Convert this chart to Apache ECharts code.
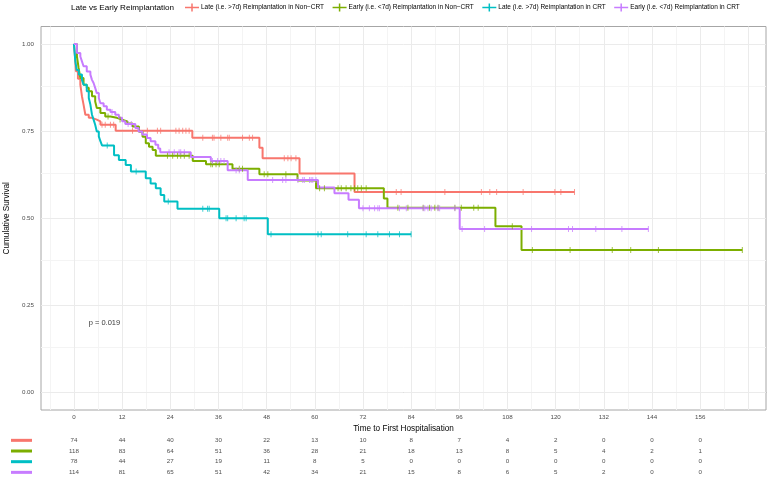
<!DOCTYPE html>
<html lang="en">
<head>
  <meta charset="utf-8">
  <title>Time to First Hospitalisation</title>
  <script src="https://cdn.jsdelivr.net/npm/echarts@6/dist/echarts.min.js"></script>
  <style>
    html, body { margin: 0; padding: 0; background: #fff; }
    #main { width: 768px; height: 479px; }
  </style>
</head>
<body>
<div id="main"></div>
<script>
  var legendTitle = 'Late vs Early Reimplantation';
  var seriesNames = [
    'Late (i.e. >7d) Reimplantation in Non\u2212CRT',
    'Early (i.e. <7d) Reimplantation in Non\u2212CRT',
    'Late (i.e. >7d) Reimplantation in CRT',
    'Early (i.e. <7d) Reimplantation in CRT'
  ];
  var colors = ['#F8766D', '#7CAE00', '#00BFC4', '#C77CFF'];

  // KM steps: time of each event and survival after it (last point = end of follow-up)
  var lateNonCrtTime = [0, 0.3, 0.5, 1.0, 1.6, 2.0, 2.4, 2.85, 3.7, 4.5, 5.7, 6.6, 10.4, 29.5, 46.2, 47.0, 56.2, 69.9, 124.7];
  var lateNonCrtSurv = [1.0, 0.96, 0.922, 0.90, 0.883, 0.85, 0.826, 0.797, 0.788, 0.783, 0.778, 0.768, 0.751, 0.731, 0.702, 0.672, 0.628, 0.575, 0.575];
  var lateNonCrtCensor = [7.0, 7.8, 9.1, 9.9, 14.6, 18.3, 20.8, 21.6, 25.4, 26.2, 27.1, 27.9, 28.7, 32.1, 34.5, 34.9, 36.6, 38.3, 38.7, 42.0, 43.7, 44.5, 52.4, 53.3, 54.1, 55.3, 80.3, 81.5, 92.4, 101.5, 103.6, 105.3, 111.9, 119.8, 121.3, 124.7];

  var earlyNonCrtTime = [0, 0.75, 1.17, 1.6, 2.4, 3.2, 3.7, 4.5, 5.3, 5.7, 6.6, 7.8, 9.1, 10.7, 12.0, 13.3, 14.6, 16.2, 17.1, 17.9, 18.7, 19.6, 20.4, 29.6, 32.9, 39.5, 46.2, 55.7, 60.3, 77.2, 78.1, 105.0, 111.5, 166.5];
  var earlyNonCrtSurv = [1.0, 0.964, 0.931, 0.902, 0.883, 0.874, 0.864, 0.850, 0.835, 0.816, 0.802, 0.792, 0.788, 0.783, 0.778, 0.772, 0.763, 0.748, 0.734, 0.715, 0.705, 0.696, 0.679, 0.664, 0.655, 0.642, 0.626, 0.608, 0.586, 0.557, 0.530, 0.477, 0.409, 0.409];
  var earlyNonCrtCensor = [8.5, 11.5, 23.3, 24.6, 25.8, 26.6, 27.5, 28.7, 34.1, 34.5, 35.4, 36.2, 41.2, 42.0, 47.4, 48.3, 52.8, 61.2, 62.4, 65.8, 66.6, 67.8, 69.0, 69.9, 70.7, 71.6, 72.8, 80.7, 83.2, 87.0, 88.6, 89.9, 90.7, 94.9, 96.5, 99.6, 100.7, 109.2, 114.2, 123.6, 134.1, 138.7, 145.6, 166.5];

  var lateCrtTime = [0, 0.35, 0.7, 1.2, 2.0, 2.4, 3.2, 3.7, 4.1, 4.5, 4.9, 5.3, 5.7, 6.2, 6.6, 7.0, 10.0, 11.2, 12.9, 14.2, 17.9, 19.1, 20.4, 21.6, 22.5, 25.8, 36.2, 48.3, 84.0];
  var lateCrtSurv = [1.0, 0.95, 0.925, 0.912, 0.897, 0.883, 0.864, 0.845, 0.826, 0.797, 0.783, 0.768, 0.749, 0.735, 0.721, 0.709, 0.681, 0.667, 0.653, 0.634, 0.615, 0.600, 0.586, 0.567, 0.548, 0.527, 0.500, 0.454, 0.454];
  var lateCrtCensor = [8.3, 15.5, 23.5, 32.1, 33.3, 33.7, 37.9, 38.3, 40.4, 42.4, 42.9, 49.1, 60.8, 61.6, 68.2, 72.8, 75.7, 78.6, 81.1, 84.0];

  var earlyCrtTime = [0, 0.75, 1.6, 2.0, 2.4, 3.2, 4.1, 4.5, 4.9, 5.3, 5.7, 6.2, 6.6, 7.4, 8.2, 9.1, 10.3, 11.2, 12.0, 12.8, 15.3, 16.1, 17.0, 18.2, 19.1, 20.3, 21.0, 21.5, 29.1, 34.1, 38.3, 43.3, 60.8, 64.9, 68.4, 71.0, 96.1, 143.1];
  var earlyCrtSurv = [1.0, 0.974, 0.964, 0.950, 0.936, 0.921, 0.912, 0.897, 0.888, 0.874, 0.859, 0.845, 0.830, 0.821, 0.811, 0.805, 0.797, 0.788, 0.778, 0.770, 0.759, 0.749, 0.740, 0.730, 0.721, 0.711, 0.700, 0.689, 0.676, 0.664, 0.638, 0.610, 0.588, 0.572, 0.553, 0.529, 0.469, 0.469];
  var earlyCrtCensor = [9.5, 13.5, 14.3, 23.7, 25.0, 26.2, 26.6, 27.5, 34.5, 35.8, 36.6, 37.4, 40.4, 41.2, 49.5, 52.0, 52.8, 55.8, 57.0, 57.4, 58.7, 59.1, 59.5, 60.3, 72.0, 73.6, 74.9, 75.7, 76.1, 81.1, 82.8, 87.0, 87.4, 88.2, 89.0, 90.7, 91.1, 94.9, 96.7, 102.3, 114.0, 123.2, 124.2, 130.0, 136.5, 143.1];

  // numbers at risk
  var riskTimes = [0, 12, 24, 36, 48, 60, 72, 84, 96, 108, 120, 132, 144, 156];
  var riskLateNonCrt = [74, 44, 40, 30, 22, 13, 10, 8, 7, 4, 2, 0, 0, 0];
  var riskEarlyNonCrt = [118, 83, 64, 51, 36, 28, 21, 18, 13, 8, 5, 4, 2, 1];
  var riskLateCrt = [78, 44, 27, 19, 11, 8, 5, 0, 0, 0, 0, 0, 0, 0];
  var riskEarlyCrt = [114, 81, 65, 51, 42, 34, 21, 15, 8, 6, 5, 2, 0, 0];

  var xTicks = [0, 12, 24, 36, 48, 60, 72, 84, 96, 108, 120, 132, 144, 156];
  var yTicks = [0, 0.25, 0.5, 0.75, 1];
  var xGridMajor = [0, 12, 24, 36, 48, 60, 72, 84, 96, 108, 120, 132, 144, 156, 168];
  var xGridMinor = [-6, 6, 18, 30, 42, 54, 66, 78, 90, 102, 114, 126, 138, 150, 162];
  var yGridMinor = [0.125, 0.375, 0.625, 0.875];

  var pValueText = 'p = 0.019';
  var pValueAt = [7.6, 0.2];

  var curves = [
    { t: lateNonCrtTime, s: lateNonCrtSurv, c: lateNonCrtCensor },
    { t: earlyNonCrtTime, s: earlyNonCrtSurv, c: earlyNonCrtCensor },
    { t: lateCrtTime, s: lateCrtSurv, c: lateCrtCensor },
    { t: earlyCrtTime, s: earlyCrtSurv, c: earlyCrtCensor }
  ];
  var riskRows = [riskLateNonCrt, riskEarlyNonCrt, riskLateCrt, riskEarlyCrt];

  function survAt(times, survs, x) {
    var v = survs[0];
    for (var i = 0; i < times.length; i++) {
      if (times[i] <= x) v = survs[i];
    }
    return v;
  }

  var FONT = 'Liberation Sans, Arial, sans-serif';
  var X_MIN = -8.2, X_MAX = 172.4;

  var gridLines = [];
  xGridMinor.forEach(function (v) { gridLines.push({ xAxis: v, lineStyle: { color: '#f4f4f4' } }); });
  yGridMinor.forEach(function (v) { gridLines.push({ yAxis: v, lineStyle: { color: '#f4f4f4' } }); });
  xGridMajor.forEach(function (v) { gridLines.push({ xAxis: v, lineStyle: { color: '#ebebeb' } }); });
  yTicks.forEach(function (v) { gridLines.push({ yAxis: v, lineStyle: { color: '#ebebeb' } }); });

  // background grid drawn as mark lines so it sits under the curves
  var series = [{
    type: 'line',
    data: [],
    z: 1,
    silent: true,
    markLine: {
      z: 1,
      silent: true,
      symbol: ['none', 'none'],
      label: { show: false },
      animation: false,
      lineStyle: { type: 'solid', width: 1 },
      data: gridLines
    }
  }];

  curves.forEach(function (cv, k) {
    series.push({
      name: seriesNames[k],
      type: 'line',
      step: 'end',
      showSymbol: false,
      z: 6,
      color: colors[k],
      lineStyle: { width: 2, color: colors[k] },
      data: cv.t.map(function (t, i) { return [t, cv.s[i]]; })
    });
  });
  curves.forEach(function (cv, k) {
    series.push({
      name: seriesNames[k],
      type: 'scatter',
      symbol: 'rect',
      symbolSize: [1, 6],
      z: 7,
      itemStyle: { color: colors[k], opacity: 0.75 },
      data: cv.c.map(function (t) { return [t, survAt(cv.t, cv.s, t)]; })
    });
  });

  series.push({
    type: 'scatter',
    symbolSize: 1,
    itemStyle: { color: 'transparent' },
    label: {
      show: true, position: 'inside', formatter: pValueText,
      fontSize: 7.5, color: '#000', fontFamily: FONT
    },
    data: [pValueAt]
  });

  var riskData = [];
  riskRows.forEach(function (row, r) {
    row.forEach(function (n, i) { riskData.push([riskTimes[i], r, n]); });
  });
  series.push({
    type: 'scatter',
    xAxisIndex: 1,
    yAxisIndex: 1,
    symbolSize: 1,
    itemStyle: { color: 'transparent' },
    label: {
      show: true, position: 'inside',
      formatter: function (p) { return String(p.value[2]); },
      fontSize: 6.2, color: '#1a1a1a', fontFamily: FONT
    },
    data: riskData
  });

  var rich = {};
  colors.forEach(function (c, i) {
    rich['r' + i] = { width: 21, height: 3, backgroundColor: c, fontSize: 1, lineHeight: 3 };
  });

  var option = {
    animation: false,
    backgroundColor: '#fff',
    title: {
      text: legendTitle,
      left: 71, top: 3.5, padding: 0,
      textStyle: { fontSize: 8.1, fontWeight: 'normal', color: '#000', fontFamily: FONT }
    },
    legend: {
      data: seriesNames,
      left: 185, top: 3.5, padding: 0,
      itemWidth: 14, itemHeight: 8, itemGap: 8.5,
      icon: 'path://M0,3.25h14v1.5h-14z M6.25,0h1.5v8h-1.5z',
      textStyle: { fontSize: 6.5, color: '#000', fontFamily: FONT, padding: [0, 0, 0, -3] }
    },
    grid: [
      { left: 41, right: 2, top: 26.5, bottom: 69, containLabel: false, outerBoundsMode: 'none',
        show: true, borderColor: '#a6a6a6', borderWidth: 1 },
      { left: 41, right: 2, top: 435, height: 42.7, containLabel: false, outerBoundsMode: 'none' }
    ],
    xAxis: [{
      type: 'value', gridIndex: 0, min: X_MIN, max: X_MAX,
      axisLine: { show: true, lineStyle: { color: '#a6a6a6' } },
      axisTick: { show: true, customValues: xTicks, length: 3, lineStyle: { color: '#555' } },
      axisLabel: { customValues: xTicks, fontSize: 6.2, color: '#4d4d4d', margin: 4, fontFamily: FONT },
      splitLine: { show: false },
      name: 'Time to First Hospitalisation',
      nameLocation: 'middle', nameGap: 14,
      nameTextStyle: { fontSize: 8.2, color: '#000', fontFamily: FONT }
    }, {
      type: 'value', gridIndex: 1, min: X_MIN, max: X_MAX, show: false
    }],
    yAxis: [{
      type: 'value', gridIndex: 0, min: -0.05, max: 1.05,
      axisLine: { show: true, lineStyle: { color: '#a6a6a6' } },
      axisTick: { show: true, customValues: yTicks, length: 3, lineStyle: { color: '#555' } },
      axisLabel: {
        customValues: yTicks, fontSize: 6.2, color: '#4d4d4d', margin: 7, fontFamily: FONT,
        formatter: function (v) { return v.toFixed(2); }
      },
      splitLine: { show: false },
      name: 'Cumulative Survival',
      nameLocation: 'middle', nameGap: 26, nameRotate: 90,
      nameTextStyle: { fontSize: 8.2, color: '#000', fontFamily: FONT }
    }, {
      type: 'category', gridIndex: 1, inverse: true,
      data: ['0', '1', '2', '3'],
      axisLine: { show: false }, axisTick: { show: false }, splitLine: { show: false },
      axisLabel: {
        interval: 0, margin: 9, rich: rich,
        formatter: function (v, i) { return '{r' + i + '| }'; }
      }
    }],
    series: series
  };

  var chart = echarts.init(document.getElementById('main'), null, { renderer: 'canvas' });
  chart.setOption(option);
</script>
</body>
</html>
